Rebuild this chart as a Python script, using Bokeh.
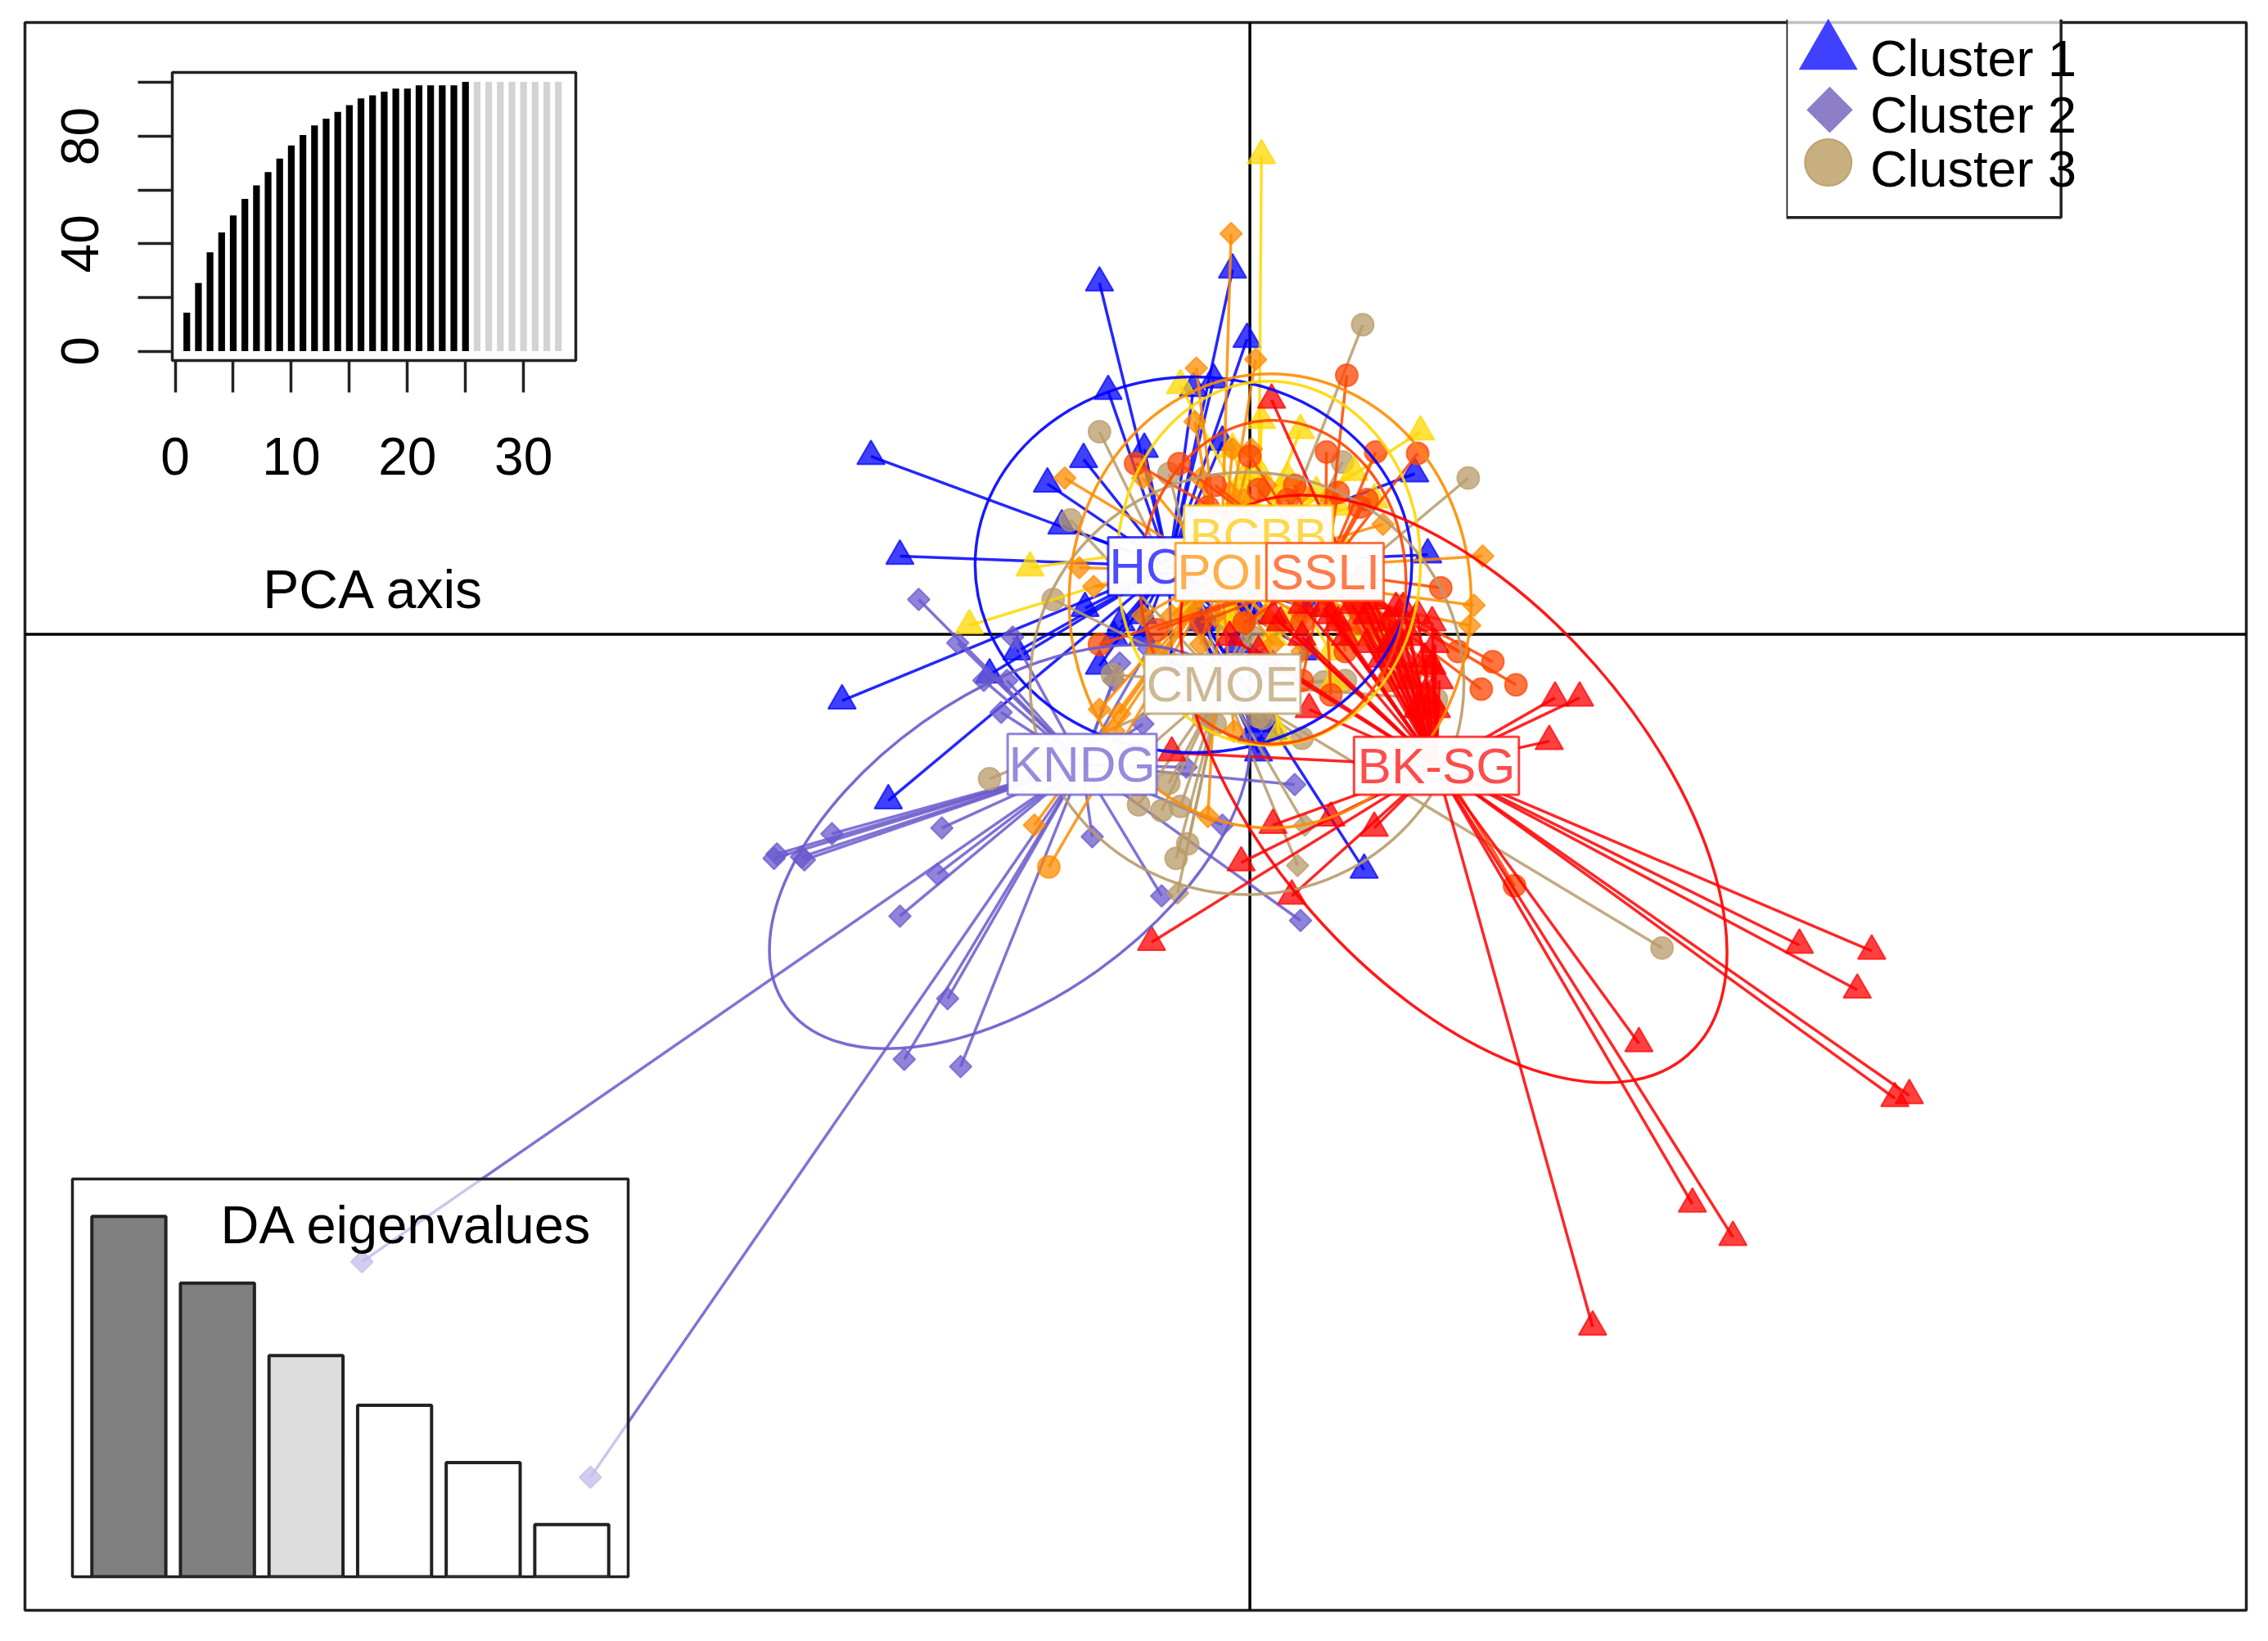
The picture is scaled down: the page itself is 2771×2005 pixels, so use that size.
import math
from bokeh.plotting import figure
from bokeh.models import Range1d, Span, FixedTicker
from bokeh.core.properties import value
from bokeh.embed import file_html
from bokeh.resources import INLINE

# ---------- data (discriminant-axis units) ----------
pop_names = ["HO", "KNDG", "CMOE", "BCBB", "POI", "SSLI", "BK-SG"]
pop_colors = ["#0000FF", "#6A5ACD", "#B89B6A", "#FFD700", "#FF8C00", "#FF4500", "#FF0000"]
pop_center_x = [-0.56, -1.16, -0.19, 0.06, -0.20, 0.52, 1.29]
pop_center_y = [0.47, -0.90, -0.34, 0.68, 0.43, 0.43, -0.91]

ho_x = [-1.04,-0.12,-0.02,-0.98,-0.25,-2.62,-1.40,-1.15,-0.73,-2.42,-1.30,-2.82,-2.50,-1.80,-1.61,0.79,1.14,1.23,0.01,-0.39,-1.04,-0.74,-0.94,-0.04,0.16,0.41,-0.34,-0.54,-0.29,-0.19,0.06,
        -0.74,-0.29,0.06,-0.09,0.41,-0.89,-1.14,0.16,0.06]
ho_y = [2.43,2.52,2.04,1.68,1.76,1.23,1.04,1.21,1.28,0.54,0.75,-0.46,-1.15,-0.28,-0.12,-1.63,1.11,0.55,-0.69,1.70,-0.22,-0.02,-0.02,0.18,-0.22,-0.12,0.08,-0.22,0.28,1.33,-0.62,
        0.13,0.08,0.13,-0.07,0.18,0.08,0.18,-0.67,-0.82]
kndg_x = [-6.14,-4.56,-3.29,-3.27,-3.10,-3.08,-2.89,-2.13,-2.16,-2.42,-2.09,-2.39,-2.00,0.35,-0.61,-1.09,-1.72,-2.29,-2.02,0.31,-0.19,-1.64,-1.68,-1.84,-0.94,-0.74,-0.44,-0.90,-0.70]
kndg_y = [-4.34,-5.83,-1.55,-1.52,-1.54,-1.56,-1.38,-1.34,-1.66,-1.95,-2.52,-2.94,-2.99,-1.98,-1.81,-1.40,-0.54,0.24,-0.06,-1.04,-1.32,-0.02,-0.32,-0.32,-0.32,-0.62,-0.92,-0.20,-0.10]
cmoe_x = [0.78,1.51,-1.04,2.85,-1.24,-1.36,-1.80,0.64,-0.56,-0.95,1.29,-0.77,-0.61,-0.48,-0.43,-0.51,-0.56,-0.32,0.09,0.51,0.02,-0.74,-0.24,0.06,0.66,0.36,-0.50,0.33,0.38]
cmoe_y = [2.14,1.08,1.40,-2.17,0.79,0.24,-1.00,1.19,1.11,-0.28,-0.45,-1.18,-1.22,-1.19,-1.45,-1.55,-1.03,-0.58,-0.58,-0.33,-0.02,-0.82,-0.62,-0.57,-0.32,-0.72,-1.79,-1.60,-1.32]
cmoe_cluster = [3]*26 + [2]*3
bcbb_x = [0.08,1.18,-0.48,-1.52,-1.94,0.35,0.72,0.58,0.20,-0.12,0.36,0.56,-0.14,0.16,0.76,-0.44,0.26,-0.04,0.66,0.08,
          -0.09,0.21,0.46,0.06,0.61,0.86,-0.14,0.26,0.71,0.96,0.56]
bcbb_y = [3.31,1.40,1.72,0.46,0.06,1.41,1.12,-0.33,-0.69,1.28,0.38,0.18,0.08,-0.02,0.18,0.18,1.08,1.08,0.58,1.48,
          0.93,0.98,0.98,1.13,0.88,0.93,0.13,0.08,-0.02,0.03,-0.12]
poi_x = [-0.13,-0.37,-0.38,-1.28,-1.18,-1.08,1.61,1.55,1.52,-1.49,-0.29,-0.11,0.04,0.01,-0.12,0.92,-0.64,-0.34,0.16,0.36,0.86,0.96,-1.04,-0.74,
         -0.74,-0.54,-0.24,-0.04,0.11,0.36,0.61,0.86,-0.34,-0.14,0.11,0.36,0.56,-0.04,-0.94,-0.90,-1.39]
poi_y = [2.77,1.84,1.47,1.08,0.46,0.33,0.54,0.20,0.06,-1.32,-1.26,-0.67,1.90,1.28,1.28,0.76,-0.12,-0.07,-0.07,-0.12,-0.02,0.08,-0.52,1.08,
         0.13,0.13,0.13,0.08,0.13,0.13,0.08,0.13,1.08,0.98,1.03,0.98,0.93,0.93,-0.67,-0.55,-1.61]
poi_cluster = [2]*40 + [3]
ssli_x = [0.67,1.16,0.53,0.87,-0.79,0.00,1.32,1.44,1.68,1.84,1.60,1.24,1.27,-1.04,1.83,0.96,0.86,0.66,0.56,0.36,-0.49,0.26,0.76,-0.29,
          -0.24,0.06,0.31,0.61,0.81,0.76,1.06,0.36,-0.04,-0.34,-0.64,0.96,1.11,1.21]
ssli_y = [1.79,1.25,1.26,1.26,1.18,1.23,0.32,-0.12,-0.19,-0.35,-0.38,-0.22,-0.54,-0.07,-1.74,-0.32,0.08,-0.12,-0.42,-0.32,1.18,0.93,0.88,0.88,
          1.03,1.00,1.03,0.98,0.93,0.08,0.03,0.08,0.08,0.08,0.03,-0.12,-0.27,-0.42]
bk_x = [4.30,3.80,4.20,2.69,4.46,4.56,3.06,3.34,2.37,2.28,2.11,2.07,-0.68,0.29,0.16,0.86,0.56,1.16,1.11,1.01,0.96,0.86,0.76,1.21,1.26,1.06,0.91,0.66,0.61,0.36,0.21,0.06,-0.14,-0.54,0.15,0.41,-0.06,
        0.51,0.71,0.81,1.06,1.16,1.26,1.28,1.11,1.01,0.36,0.96,0.81,1.21,0.16,0.56,1.31,1.29]
bk_y = [-2.19,-2.15,-2.46,-2.83,-3.21,-3.19,-3.94,-4.17,-4.79,-0.44,-0.44,-0.74,-2.13,-1.81,-1.32,-1.34,-1.27,-0.52,-0.32,-0.02,0.08,0.23,0.38,-0.42,-0.22,-0.17,-0.17,-0.02,0.08,-0.02,0.08,-0.12,-0.02,-0.82,1.62,-0.52,-1.58,
        0.18,0.20,0.13,0.18,0.13,0.08,-0.07,-0.02,0.18,0.20,-0.07,-0.07,-0.17,0.13,0.13,-0.32,-0.52]

pop_xs = [ho_x, kndg_x, cmoe_x, bcbb_x, poi_x, ssli_x, bk_x]
pop_ys = [ho_y, kndg_y, cmoe_y, bcbb_y, poi_y, ssli_y, bk_y]
pop_clusters = [[1]*len(ho_x), [2]*len(kndg_x), cmoe_cluster, [1]*len(bcbb_x), poi_cluster, [3]*len(ssli_x), [1]*len(bk_x)]

ellipse_x = [-0.39, -1.66, -0.02, 0.13, 0.14, 0.16, 1.41]
ellipse_y = [0.48, -1.47, -0.34, 0.49, 0.23, 0.36, -1.07]
ellipse_w = [3.02, 3.80, 3.00, 2.10, 2.78, 1.84, 4.90]
ellipse_h = [2.60, 2.10, 2.92, 2.52, 3.14, 2.24, 2.60]
ellipse_angle = [0, 0.62, 0, 0, 0, 0, -0.85]

label_texts = ["HO", "BCBB", "POI", "SSLI", "CMOE", "KNDG", "BK-SG"]
label_colors = ["#0000FF", "#FFC800", "#FF8C00", "#FF4500", "#B89B6A", "#6A5ACD", "#FF0000"]
label_x = [-0.71, 0.06, -0.20, 0.52, -0.19, -1.16, 1.29]
label_y = [0.47, 0.68, 0.43, 0.43, -0.345, -0.90, -0.91]
label_w = [0.54, 1.03, 0.63, 0.81, 1.08, 1.03, 1.14]
label_h = [0.40, 0.42, 0.40, 0.40, 0.41, 0.42, 0.40]

pca_axis = list(range(1, 34))
pca_cumvar = [14.3,25.4,36.8,44.2,50.5,56.7,61.7,66.7,71.7,76.6,80.5,84.1,86.6,89.1,91.6,94.1,95.3,96.6,97.8,97.8,99.0,99.0,99.0,99.0,100.3,
              100.3,100.3,100.3,100.3,100.3,100.3,100.3,100.3]
pca_kept = 25
pca_xticks = [0, 5, 10, 15, 20, 25, 30]
pca_yticks = [0, 20, 40, 60, 80, 100]

da_axis = [1, 2, 3, 4, 5, 6]
da_eigen = [100, 81.5, 61.4, 47.6, 31.7, 14.5]
da_colors = ["#808080", "#808080", "#DDDDDD", "#FFFFFF", "#FFFFFF", "#FFFFFF"]

legend_labels = ["Cluster 1", "Cluster 2", "Cluster 3"]
legend_colors = ["#4040FF", "#8C7FC8", "#C8AF80"]

FONT = "Liberation Sans"
INK = "#222222"

def at(left, top):
    return {"position": "absolute", "left": f"{left}px", "top": f"{top}px"}

# ---------- main scatter ----------
p = figure(frame_width=2714, frame_height=1940, width=2755, height=1985,
           x_range=Range1d(-8.47, 6.89), y_range=Range1d(-6.75, 4.23),
           output_backend="svg", toolbar_location=None,
           min_border_left=22, min_border_top=19, min_border_right=19, min_border_bottom=22,
           background_fill_color="white", border_fill_color="white",
           outline_line_color=INK, outline_line_width=3.5,
           styles=at(8, 8))
p.xaxis.visible = False
p.yaxis.visible = False
p.grid.visible = False

for i, (xs, ys) in enumerate(zip(pop_xs, pop_ys)):
    col = pop_colors[i]
    n = len(xs)
    p.segment([pop_center_x[i]]*n, [pop_center_y[i]]*n, xs, ys,
              line_color=col, line_width=3.5, line_alpha=0.85)
    for cl, marker, size, ang in [(1, "triangle", 34, 0), (2, "square", 19, math.pi/4), (3, "circle", 27, 0)]:
        sx = [a for a, c in zip(xs, pop_clusters[i]) if c == cl]
        sy = [b for b, c in zip(ys, pop_clusters[i]) if c == cl]
        if sx:
            p.scatter(sx, sy, marker=marker, size=size, angle=ang,
                      fill_color=col, fill_alpha=0.75, line_color=col, line_alpha=0.7, line_width=2)

p.ellipse(x=ellipse_x, y=ellipse_y, width=ellipse_w, height=ellipse_h, angle=ellipse_angle,
          fill_alpha=0, line_color=pop_colors, line_width=3.5, line_alpha=0.9)

p.add_layout(Span(location=0, dimension="width", line_color="black", line_width=3.5, level="underlay"))
p.add_layout(Span(location=0, dimension="height", line_color="black", line_width=3.5, level="underlay"))

for i, t in enumerate(label_texts):
    p.quad(left=[label_x[i]-label_w[i]/2], right=[label_x[i]+label_w[i]/2],
           bottom=[label_y[i]-label_h[i]/2], top=[label_y[i]+label_h[i]/2],
           fill_color="white", fill_alpha=0.97, line_color=label_colors[i], line_alpha=0.75, line_width=3)
    p.text([label_x[i]], [label_y[i]], text=[t], text_color=label_colors[i], text_alpha=0.7,
           text_font=value(FONT), text_font_size="62px", text_align="center", text_baseline="middle")

# ---------- PCA inset ----------
ins = figure(frame_width=493, frame_height=352, width=493+200, height=352+8+330,
             x_range=Range1d(-0.25, 34.5), y_range=Range1d(-3.5, 103.8),
             output_backend="svg", toolbar_location=None,
             min_border_left=170, min_border_top=8, min_border_right=30, min_border_bottom=330,
             background_fill_color="white", background_fill_alpha=1, border_fill_alpha=0,
             outline_line_color=INK, outline_line_width=3.5,
             x_axis_label="PCA axis",
             styles=at(40, 80))
ins.grid.visible = False
bar_colors = ["black" if a <= pca_kept else "#D3D3D3" for a in pca_axis]
ins.vbar(x=pca_axis, top=pca_cumvar, bottom=0, width=0.58, fill_color=bar_colors, line_color=bar_colors, line_width=0)
ins.xaxis.ticker = FixedTicker(ticks=pca_xticks)
ins.yaxis.ticker = FixedTicker(ticks=pca_yticks)
ins.xaxis.major_label_overrides = {5: "", 15: "", 25: ""}
ins.yaxis.major_label_overrides = {20: "", 60: "", 100: ""}
ins.yaxis.major_label_orientation = "parallel"
for ax, tick in ((ins.xaxis, 39), (ins.yaxis, 42)):
    ax.axis_line_color = None
    ax.major_tick_line_color = INK
    ax.major_tick_line_width = 3.5
    ax.major_tick_out = tick
    ax.major_tick_in = 0
    ax.minor_tick_line_color = None
    ax.major_label_text_font = FONT
    ax.major_label_text_font_size = "64px"
    ax.major_label_text_color = "black"
ins.xaxis.major_label_standoff = 55
ins.yaxis.major_label_standoff = 48
ins.xaxis.axis_label_text_font = FONT
ins.xaxis.axis_label_text_font_size = "66px"
ins.xaxis.axis_label_text_font_style = "normal"
ins.xaxis.axis_label_text_color = "black"
ins.xaxis.axis_label_standoff = 100

# ---------- DA eigenvalue inset ----------
da = figure(frame_width=679, frame_height=486, width=679+8, height=486+8,
            x_range=Range1d(0.363, 6.637), y_range=Range1d(0, 110.4),
            output_backend="svg", toolbar_location=None,
            min_border_left=4, min_border_right=4, min_border_top=4, min_border_bottom=4,
            background_fill_color="white", background_fill_alpha=0.6, border_fill_alpha=0,
            outline_line_color=INK, outline_line_width=3.5,
            styles=at(84, 1436))
da.xaxis.visible = False
da.yaxis.visible = False
da.grid.visible = False
da.vbar(x=da_axis, top=da_eigen, bottom=0, width=0.835, fill_color=da_colors, line_color=INK, line_width=4)
da.text([4.14], [97.6], text=["DA eigenvalues"], text_color="black", text_font=value(FONT),
        text_font_size="65px", text_align="center", text_baseline="middle")

# ---------- cluster legend ----------
leg = figure(frame_width=371, frame_height=256, width=371, height=256,
             x_range=Range1d(0, 210), y_range=Range1d(145, 0),
             output_backend="svg", toolbar_location=None,
             min_border_left=0, min_border_right=0, min_border_top=0, min_border_bottom=0,
             background_fill_alpha=0, border_fill_alpha=0, outline_line_color=None,
             styles=at(2182, 18))
leg.xaxis.visible = False
leg.yaxis.visible = False
leg.grid.visible = False
leg.quad(left=[0], right=[190], top=[3], bottom=[140], fill_color="white", fill_alpha=0.72, line_color=None)
leg.multi_line([[0, 0, 190, 190]], [[3, 140, 140, 3]], line_color=INK, line_width=3.5)
leg.scatter([29], [26], marker="triangle", size=72, fill_color=legend_colors[0], line_color=None)
leg.scatter([30], [65.5], marker="square", size=40, angle=math.pi/4, fill_color=legend_colors[1], line_color=None)
leg.scatter([29], [102], marker="circle", size=57, fill_color=legend_colors[2], line_color="#BFA26F", line_width=2)
leg.text([58, 58, 58], [30, 69, 106], text=legend_labels, text_color="black", text_font=value(FONT),
         text_font_size="63px", text_align="left", text_baseline="middle")

open("out.html", "w").write(file_html([p, ins, da, leg], INLINE))
